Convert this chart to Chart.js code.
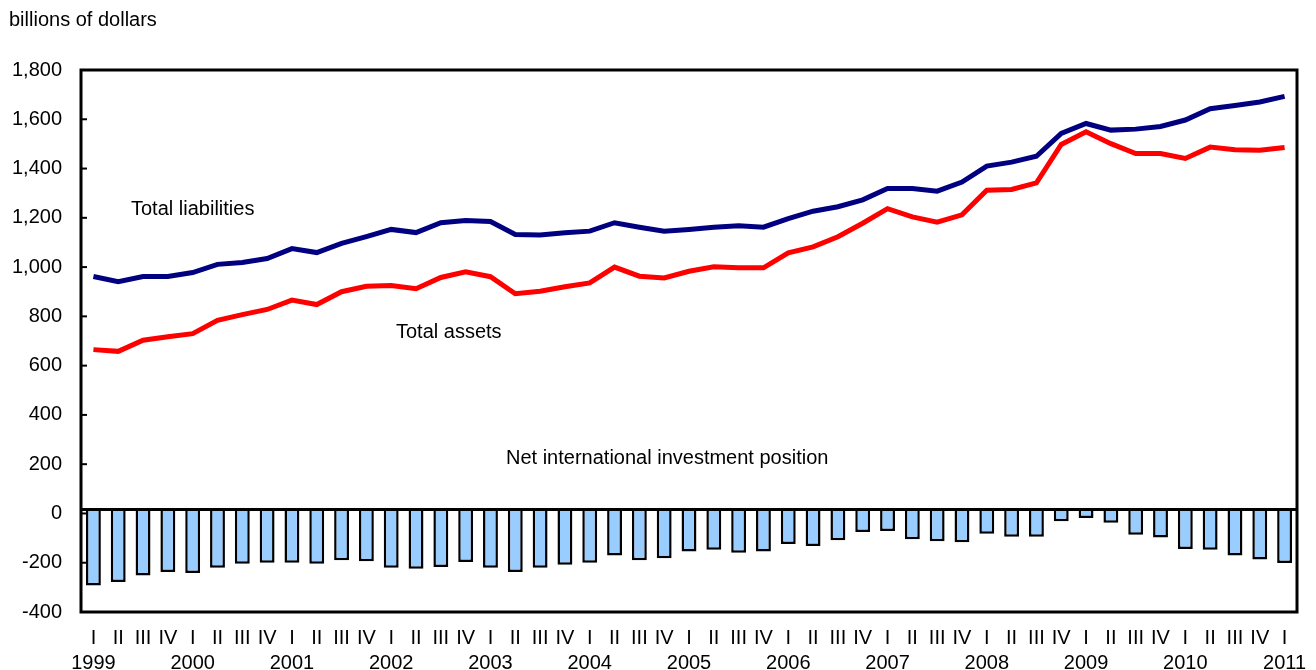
<!DOCTYPE html>
<html>
<head>
<meta charset="utf-8">
<script src="https://cdn.jsdelivr.net/npm/chart.js@4.4.1/dist/chart.umd.min.js"></script>
<style>
  html, body { margin: 0; padding: 0; background: #fff; }
  #wrap { width: 1316px; height: 670px; position: relative; }
</style>
</head>
<body>
<div id="wrap"><canvas id="grafico"></canvas></div>
<script>
// quarters 1999 I .. 2011 I
const quarterNames = ['I', 'II', 'III', 'IV'];
const yearLabels = ['1999', '2000', '2001', '2002', '2003', '2004', '2005', '2006', '2007', '2008', '2009', '2010', '2011'];

// billions of dollars
const totalLiabilities = [962, 941, 962, 962, 978, 1011, 1019, 1035, 1075, 1059, 1096, 1124, 1153, 1140, 1180,
  1189, 1185, 1132, 1130, 1139, 1146, 1180, 1162, 1146, 1153, 1162, 1168, 1162, 1197, 1227, 1245, 1273,
  1319, 1319, 1308, 1345, 1410, 1426, 1450, 1543, 1583, 1556, 1560, 1571, 1597, 1643, 1656, 1670, 1693];
const totalAssets = [665, 658, 703, 717, 730, 784, 807, 828, 866, 848, 900, 922, 925, 912, 958,
  981, 961, 892, 902, 920, 936, 1000, 963, 956, 983, 1001, 997, 997, 1058, 1082, 1123, 1178,
  1237, 1204, 1182, 1212, 1312, 1315, 1342, 1498, 1549, 1501, 1461, 1461, 1441, 1487, 1476, 1474, 1485];
const netPosition = [-308, -294, -268, -254, -258, -236, -220, -216, -216, -220,
  -206, -210, -236, -240, -233, -213, -236, -254, -236, -224,
  -216, -187, -206, -198, -170, -163, -175, -170, -140, -148,
  -125, -91, -87, -121, -129, -133, -98, -111, -111, -48,
  -34, -54, -102, -114, -160, -163, -187, -203, -217];

const etiquetas = totalAssets.map((v, i) => [quarterNames[i % 4], i % 4 === 0 ? yearLabels[i / 4] : '']);

const fuente = '"Liberation Sans", Arial, sans-serif';

// box, inner ticks, zero line and text notes
const decoracion = {
  id: 'decoracion',
  afterDatasetsDraw(chart) {
    const ctx = chart.ctx;
    const a = chart.chartArea;
    const y = chart.scales.y;
    const y2 = chart.scales.y2;
    ctx.save();
    ctx.strokeStyle = '#000';
    ctx.lineWidth = 3;
    // zero line of the bars
    const z = y2.getPixelForValue(0);
    ctx.beginPath();
    ctx.moveTo(a.left, z);
    ctx.lineTo(a.right, z);
    ctx.stroke();
    // inner tick marks
    ctx.lineWidth = 2;
    y.ticks.forEach(t => {
      const p = y.getPixelForValue(t.value);
      ctx.beginPath();
      ctx.moveTo(a.left, p);
      ctx.lineTo(a.left + 6, p);
      ctx.stroke();
    });
    ctx.lineWidth = 3;
    ctx.strokeRect(a.left, a.top, a.right - a.left, a.bottom - a.top);

    ctx.fillStyle = '#000';
    ctx.font = '20px ' + fuente;
    ctx.textBaseline = 'middle';
    ctx.textAlign = 'left';
    ctx.fillText('billions of dollars', 9, 20);
    ctx.fillText('Total liabilities', 131, 209);
    ctx.fillText('Total assets', 396, 332);
    ctx.fillText('Net international investment position', 506, 458);
    ctx.restore();
  }
};

new Chart(document.getElementById('grafico'), {
  data: {
    labels: etiquetas,
    datasets: [
      {
        type: 'line',
        label: 'Total liabilities',
        data: totalLiabilities,
        borderColor: '#000080',
        borderWidth: 5,
        pointRadius: 0,
        tension: 0,
        yAxisID: 'y'
      },
      {
        type: 'line',
        label: 'Total assets',
        data: totalAssets,
        borderColor: '#ff0000',
        borderWidth: 5,
        pointRadius: 0,
        tension: 0,
        yAxisID: 'y'
      },
      {
        type: 'bar',
        label: 'Net international investment position',
        data: netPosition,
        backgroundColor: '#99ccff',
        borderColor: '#000',
        borderWidth: 2.5,
        borderSkipped: 'start',
        barPercentage: 0.6,
        categoryPercentage: 1,
        yAxisID: 'y2'
      }
    ]
  },
  options: {
    responsive: true,
    maintainAspectRatio: false,
    animation: false,
    layout: { padding: { left: 0, top: 70, right: 19, bottom: 0 } },
    plugins: {
      legend: { display: false },
      tooltip: { enabled: false }
    },
    scales: {
      x: {
        type: 'category',
        offset: true,
        grid: { display: false, drawTicks: false },
        border: { display: false },
        ticks: {
          autoSkip: false,
          maxRotation: 0,
          padding: 14,
          color: '#000',
          font: { family: fuente, size: 20, lineHeight: 1.25 }
        },
        afterFit(scale) {
          scale.height = 58;
          scale.paddingLeft = 0;
          scale.paddingRight = 0;
        }
      },
      y: {
        min: -400,
        max: 1800,
        grid: { display: false, drawTicks: false },
        border: { display: false },
        ticks: {
          stepSize: 200,
          padding: 19,
          color: '#000',
          font: { family: fuente, size: 20 },
          callback: v => v.toLocaleString('en-US')
        },
        afterFit(scale) { scale.width = 81; }
      },
      // bars sit on a baseline a few pixels above the printed 0
      y2: {
        display: false,
        min: -416,
        max: 1784
      }
    }
  },
  plugins: [decoracion]
});
</script>
</body>
</html>
